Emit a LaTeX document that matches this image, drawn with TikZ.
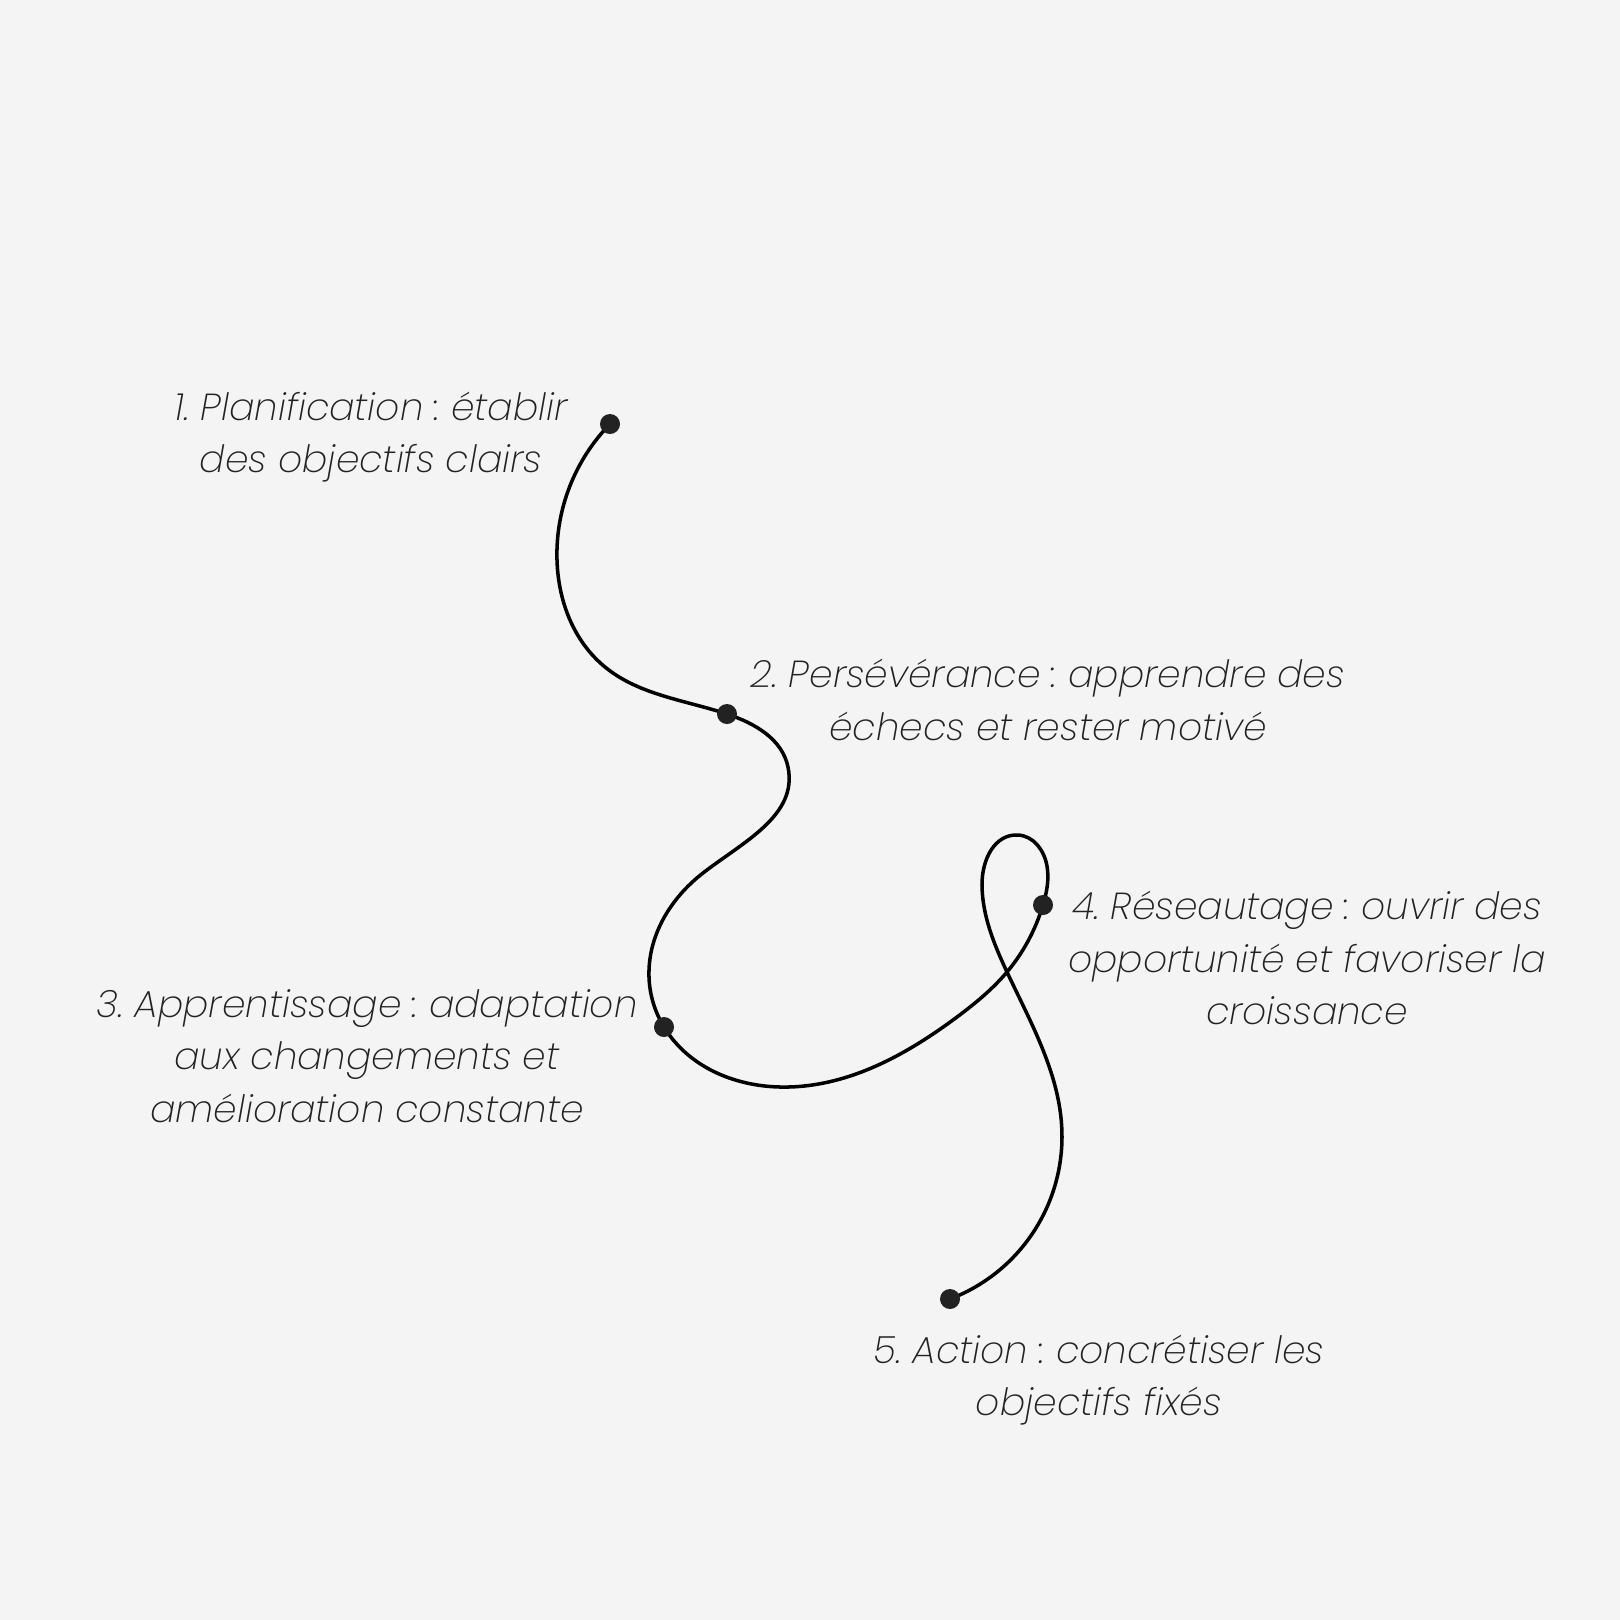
\documentclass[tikz,border=0pt]{standalone}
\usepackage{fontspec}
\usetikzlibrary{hobby}
\newfontfamily\lblfont{Poppins ExtraLight Italic}
\definecolor{bgc}{HTML}{F4F4F4}
\definecolor{inkc}{HTML}{222222}
\begin{document}
\frenchspacing
\begin{tikzpicture}[x=0.01cm,y=-0.01cm,
  dotmark/.style={circle,fill=inkc,inner sep=0pt,minimum size=0.2cm},
  lbl/.style={text=inkc,align=center,font=\lblfont\fontsize{10.7}{14.9}\selectfont},
  curve/.style={line width=1.0pt,black,line cap=round}]
\fill[bgc] (0,0) rectangle (1620,1620);
\useasboundingbox (0,0) rectangle (1620,1620);
\coordinate (p1) at (610,424);
\coordinate (p2) at (727,714);
\coordinate (p3) at (664,1027);
\coordinate (p4) at (1043,905);
\coordinate (p5) at (950,1299);
\draw[curve,use Hobby shortcut] (p1) .. (557,560) .. (605,667) .. (p2) .. (788,767)
  .. (703,873) .. (649,977) .. (p3) .. (780,1087) .. (957,1017) .. (1007,972) .. (p4)
  .. (1047,866) .. (1018,835) .. (982,885) .. (1007,972) .. (1062,1137) .. (p5);
\node[dotmark] (d1) at (p1) {};
\node[dotmark] (d2) at (p2) {};
\node[dotmark] (d3) at (p3) {};
\node[dotmark] (d4) at (p4) {};
\node[dotmark] (d5) at (p5) {};
\node[lbl] (t1) at (371,437) {1. Planification : établir\\des objectifs clairs};
\node[lbl] (t2) at (1048,700) {2. Persévérance : apprendre des\\échecs et rester motivé};
\node[lbl] (t3) at (367,1056) {3. Apprentissage : adaptation\\aux changements et\\amélioration constante};
\node[lbl] (t4) at (1307,958) {4. Réseautage : ouvrir des\\opportunité et favoriser la\\croissance};
\node[lbl] (t5) at (1099,1380) {5. Action : concrétiser les\\objectifs fixés};
\end{tikzpicture}
\end{document}
